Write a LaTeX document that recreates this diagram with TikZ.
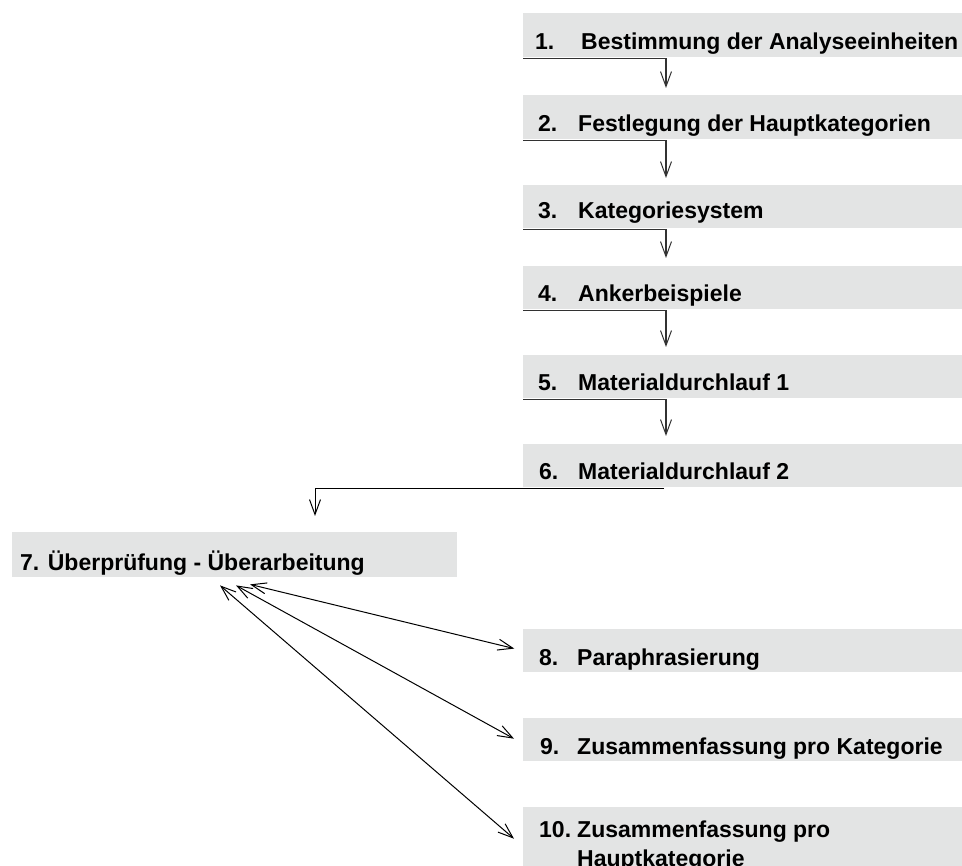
\documentclass[tikz,border=0pt]{standalone}
\usepackage{fontspec}
\setmainfont{Liberation Sans}
\usetikzlibrary{arrows.meta,calc}
\definecolor{boxgray}{RGB}{227,228,228}
\definecolor{linegray}{RGB}{50,50,50}
\tikzset{
  box/.style={fill=boxgray, draw=none, inner sep=0pt, anchor=north west},
  lbl/.style={anchor=base west, inner sep=0pt, font=\fontsize{23}{27}\selectfont\bfseries},
  vtip/.style={-{Straight Barb[length=15pt,width=11pt,line width=1pt]}},
  conn/.style={draw=linegray, line width=1.3pt, vtip},
  diag/.style={line width=1pt, {Straight Barb[length=15pt,width=11pt,line width=1pt]}-{Straight Barb[length=15pt,width=11pt,line width=1pt]}}
}
\begin{document}
\begin{tikzpicture}[x=1pt,y=-1pt]
\useasboundingbox (0,0) rectangle (962,866);
\begin{scope}
\clip (0,0) rectangle (962,866);
% right column boxes
\node[box, minimum width=439pt, minimum height=44pt] (b1) at (523,13) {};
\node[box, minimum width=439pt, minimum height=44pt] (b2) at (523,95) {};
\node[box, minimum width=439pt, minimum height=43pt] (b3) at (523,185) {};
\node[box, minimum width=439pt, minimum height=43pt] (b4) at (523,266) {};
\node[box, minimum width=439pt, minimum height=43pt] (b5) at (523,355) {};
\node[box, minimum width=439pt, minimum height=43pt] (b6) at (523,444) {};
\node[box, minimum width=445pt, minimum height=45pt] (b7) at (12,532) {};
\node[box, minimum width=439pt, minimum height=43pt] (b8) at (523,629) {};
\node[box, minimum width=439pt, minimum height=43pt] (b9) at (523,718) {};
\node[box, minimum width=439pt, minimum height=59pt] (b10) at (523,807) {};

% labels
\node[lbl] (n1) at (535,50) {1.};
\node[lbl] (t1) at (581,50) {Bestimmung der Analyseeinheiten};
\node[lbl] (n2) at (538,132) {2.};
\node[lbl] (t2) at (578,132) {Festlegung der Hauptkategorien};
\node[lbl] (n3) at (538,219) {3.};
\node[lbl] (t3) at (578,219) {Kategoriesystem};
\node[lbl] (n4) at (538,302) {4.};
\node[lbl] (t4) at (578,302) {Ankerbeispiele};
\node[lbl] (n5) at (538,391) {5.};
\node[lbl] (t5) at (578,391) {Materialdurchlauf 1};
\node[lbl] (n6) at (539,480) {6.};
\node[lbl] (t6) at (578,480) {Materialdurchlauf 2};
\node[lbl] (t7) at (20,570) {7. Überprüfung - Überarbeitung};
\node[lbl] (n8) at (539,665) {8.};
\node[lbl] (t8) at (577,665) {Paraphrasierung};
\node[lbl] (n9) at (540,754) {9.};
\node[lbl] (t9) at (577,754) {Zusammenfassung pro Kategorie};
\node[lbl] (n10) at (539,837) {10.};
\node[lbl] (t10) at (577,837) {Zusammenfassung pro};
\node[lbl] (t10b) at (577,866) {Hauptkategorie};
\end{scope}

% connectors down the right column
\draw[conn, shorten >=7pt] ([yshift=-1pt]b1.south west) -| ([xshift=143pt]b2.north west);
\draw[conn, shorten >=7pt] ([yshift=-1pt]b2.south west) -| ([xshift=143pt]b3.north west);
\draw[conn, shorten >=8pt] ([yshift=-1pt]b3.south west) -| ([xshift=143pt]b4.north west);
\draw[conn, shorten >=8pt] ([yshift=-1pt]b4.south west) -| ([xshift=143pt]b5.north west);
\draw[conn, shorten >=8pt] ([yshift=-1pt]b5.south west) -| ([xshift=143pt]b6.north west);
% from 6 to 7
\draw[line width=1pt, vtip, shorten >=16pt] ([shift={(141pt,-1pt)}]b6.south west) -| ([xshift=303pt]b7.north west);

% double arrows
\coordinate (s8) at ([shift={(238pt,-7pt)}]b7.south west);
\coordinate (s9) at ([shift={(224pt,-8pt)}]b7.south west);
\coordinate (s10) at ([shift={(208pt,-8pt)}]b7.south west);
\draw[diag, shorten >=9pt] (s8) -- (b8.west);
\draw[diag] (s9) -- ([xshift=-9pt,yshift=1pt]b9.west);
\draw[diag] (s10) -- ([xshift=-9pt,yshift=-2pt]b10.west);
\end{tikzpicture}
\end{document}
